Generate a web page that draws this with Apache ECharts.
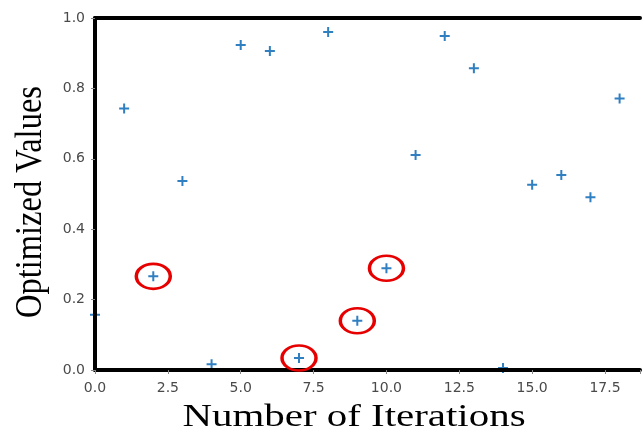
<!DOCTYPE html>
<html>
<head>
<meta charset="utf-8">
<script src="https://cdn.jsdelivr.net/npm/echarts@6/dist/echarts.min.js"></script>
<style>
html,body{margin:0;padding:0;background:#fff;}
#chart{width:643px;height:432px;}
</style>
</head>
<body>
<div id="chart"></div>
<script>
// Data
const iterations = [0,1,2,3,4,5,6,7,8,9,10,11,12,13,14,15,16,17,18];
const optimizedValues = [0.157,0.743,0.266,0.537,0.016,0.923,0.906,0.034,0.960,0.140,0.289,0.611,0.949,0.857,0.006,0.526,0.554,0.491,0.771];
const highlightedIterations = [2,7,9,10];
const xTicks = [0,2.5,5,7.5,10,12.5,15,17.5];
const yTicks = [0,0.2,0.4,0.6,0.8,1.0];
const xTitle = 'Number of Iterations';
const yTitle = 'Optimized Values';

const points = iterations.map((x,i)=>[x, optimizedValues[i]]);
const highlighted = highlightedIterations.map(x=>[x, optimizedValues[iterations.indexOf(x)]]);

const chart = echarts.init(document.getElementById('chart'), null, {renderer:'canvas'});
const plus = 'path://M4,0H6V4H10V6H6V10H4V6H0V4H4Z';
const labelStyle = {color:'#4a4a4a', fontFamily:'DejaVu Sans', fontSize:14};

chart.setOption({
  animation:false,
  backgroundColor:'#fff',
  grid:{left:95, right:0, top:18, bottom:62, containLabel:false},
  xAxis:[{
    type:'value', min:0, max:18.7, interval:2.5, z:5,
    axisLine:{show:true, onZero:false, lineStyle:{color:'#000', width:4}},
    axisTick:{show:true, length:4, lineStyle:{color:'#888', width:1}},
    axisLabel:Object.assign({margin:11, showMaxLabel:true, formatter:v=>{
      const t = xTicks.find(k=>Math.abs(k-v)<1e-6);
      return t===undefined ? '' : t.toFixed(1);
    }}, labelStyle),
    splitLine:{show:false}
  },{
    type:'value', position:'top', min:0, max:18.7, z:5,
    axisLine:{show:true, onZero:false, lineStyle:{color:'#000', width:4}},
    axisTick:{show:false}, axisLabel:{show:false}, splitLine:{show:false}
  }],
  yAxis:{
    type:'value', min:0, max:1, interval:0.2, z:5,
    axisLine:{show:true, onZero:false, lineStyle:{color:'#000', width:4}},
    axisTick:{show:true, length:4, lineStyle:{color:'#888', width:1}},
    axisLabel:Object.assign({margin:10, formatter:v=>{
      const t = yTicks.find(k=>Math.abs(k-v)<1e-6);
      return t===undefined ? '' : t.toFixed(1);
    }}, labelStyle),
    splitLine:{show:false}
  },
  series:[{
    type:'scatter', xAxisIndex:0, data:points, symbol:plus, symbolSize:10, clip:true,
    itemStyle:{color:'#2f7fc1', opacity:1}, z:2
  },{
    type:'scatter', xAxisIndex:0, data:highlighted, symbol:'circle', symbolSize:[34,25], clip:false,
    itemStyle:{color:'rgba(0,0,0,0)', borderColor:'#e60000', borderWidth:3, opacity:1}, z:10
  }],
  graphic:[{
    type:'text', x:354, y:418, scaleX:1.32, scaleY:1,
    style:{text:xTitle, font:'31px "Liberation Serif", "Times New Roman", serif', fill:'#000', textAlign:'center', textVerticalAlign:'middle'}
  },{
    type:'text', x:31, y:202, rotation:Math.PI/2, scaleX:0.855, scaleY:1,
    style:{text:yTitle, font:'38px "Liberation Serif", "Times New Roman", serif', fill:'#000', textAlign:'center', textVerticalAlign:'middle'}
  }]
});
</script>
</body>
</html>
